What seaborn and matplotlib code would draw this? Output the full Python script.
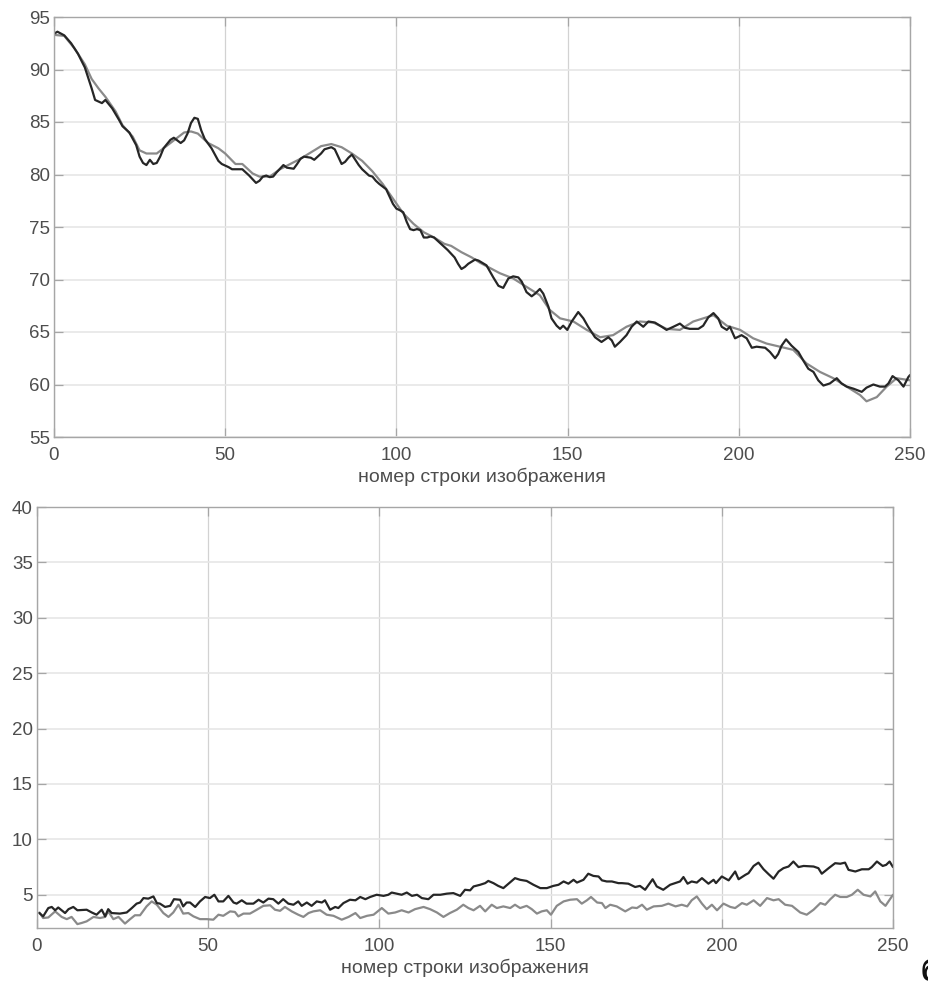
import matplotlib
matplotlib.use("Agg")
import matplotlib.pyplot as plt
import seaborn as sns
import numpy as np

# ---------------- data ----------------
# Top panel: black (measured) series
top_black_x = [0, 1, 3, 5, 7, 9, 11, 12, 14, 15, 17, 19, 20, 22, 24, 25, 26, 27, 28, 29, 30, 31, 32, 34,
               35, 36, 37, 38, 39, 40, 41, 42, 43, 44, 46, 48, 49, 51, 52, 55, 57, 59, 60, 61, 62, 63, 64,
               65, 67, 68, 70, 71, 72, 73, 75, 76, 77, 78, 79, 81, 82, 83, 84, 85, 86, 87, 88, 89, 90, 92,
               93, 94, 95, 97, 98, 99, 100, 101, 102, 103, 104, 105, 106, 107, 108, 109, 110, 111, 112, 113,
               114, 115, 117, 118, 119, 120, 121, 122, 123, 124,
               126.3, 128.3, 129.8, 131.2, 132.7, 134.1, 135.6, 136.6, 138.0, 139.5, 140.5, 141.9, 142.9,
               144.4, 145.3, 146.8, 147.8, 148.7, 149.9, 151.2, 153.1, 154.6, 156.0, 158.0, 159.9, 161.9,
               162.9, 163.8, 165.3, 167.2, 168.7, 170.2, 172.1, 173.6, 175.5, 177.5, 178.9, 180.9, 182.8,
               184.3, 185.7, 188.2, 189.6, 191.1, 192.6, 194.0, 195.0, 196.5, 197.4, 198.9, 200.8, 202.3,
               203.8, 205.2, 207.7, 209.1, 210.6, 211.5, 212.5, 213.8, 215.4, 217.4, 218.8, 220.3, 221.8,
               223.2, 224.7, 226.6, 228.6, 230.0, 231.5, 233.5, 235.9, 237.3, 239.3, 241.2, 242.7, 243.7,
               244.9, 246.6, 248.1, 249.5, 250]
top_black_y = [93.4, 93.6, 93.25, 92.5, 91.5, 90.2, 88.2, 87.1, 86.8, 87.1, 86.3, 85.2, 84.6, 84.0, 82.8,
               81.7, 81.1, 80.9, 81.4, 81.0, 81.1, 81.7, 82.5, 83.3, 83.5, 83.25, 83.0, 83.25, 83.9, 84.9,
               85.4, 85.3, 84.2, 83.4, 82.5, 81.3, 81.0, 80.7, 80.5, 80.5, 79.9, 79.2, 79.4, 79.8, 79.9,
               79.75, 79.8, 80.2, 80.9, 80.65, 80.55, 81.0, 81.5, 81.7, 81.6, 81.4, 81.7, 82.0, 82.4, 82.6,
               82.4, 81.7, 81.0, 81.2, 81.6, 81.9, 81.4, 80.9, 80.5, 79.9, 79.8, 79.4, 79.1, 78.6, 77.9,
               77.2, 76.75, 76.6, 76.4, 75.5, 74.8, 74.7, 74.8, 74.7, 74.0, 74.0, 74.1, 74.0, 73.7, 73.4,
               73.1, 72.8, 72.1, 71.5, 71.0, 71.2, 71.5, 71.7, 71.9, 71.8,
               71.35, 70.2, 69.4, 69.2, 70.1, 70.3, 70.2, 69.8, 68.8, 68.4, 68.65, 69.1, 68.65,
               67.4, 66.3, 65.6, 65.3, 65.6, 65.2, 66.0, 66.9, 66.3, 65.5, 64.5, 64.05, 64.5,
               64.2, 63.6, 64.05, 64.7, 65.5, 66.0, 65.5, 66.0, 65.9, 65.5, 65.2, 65.5, 65.8,
               65.4, 65.3, 65.3, 65.6, 66.4, 66.8, 66.3, 65.5, 65.2, 65.5, 64.4, 64.7, 64.4,
               63.5, 63.6, 63.5, 63.1, 62.5, 62.9, 63.7, 64.3, 63.7, 63.1, 62.3, 61.5, 61.2,
               60.4, 59.9, 60.1, 60.6, 60.1, 59.8, 59.6, 59.3, 59.7, 60.0, 59.8, 59.8, 60.1,
               60.8, 60.4, 59.8, 60.7, 60.9]

# Top panel: gray (model / smoothed) series
top_gray_x = [0, 3, 6, 9, 11, 13, 15, 18, 20, 23, 25, 27, 30, 32, 35, 38, 40, 42, 45, 48, 50, 53, 55, 58,
              60, 63, 66, 69, 72, 75, 78, 81, 84, 87, 90, 93, 96, 99, 102, 105, 108, 111, 114, 116, 119,
              122, 124.4, 130.2, 134.1, 138.0, 141.9, 144.8, 147.8, 151.7, 155.6, 159.5, 163.3, 167.2,
              171.1, 175.0, 178.9, 182.8, 186.7, 190.6, 192.6, 196.5, 200.4, 204.2, 208.1, 212.0, 215.9,
              219.8, 223.7, 227.6, 231.5, 235.4, 237.3, 240.3, 243.2, 246.1, 250]
top_gray_y = [93.3, 93.2, 92.0, 90.5, 89.1, 88.2, 87.4, 86.0, 84.7, 83.6, 82.3, 82.0, 82.0, 82.5, 83.25,
              84.0, 84.1, 83.9, 83.0, 82.5, 82.0, 81.0, 81.0, 80.1, 79.8, 79.8, 80.5, 81.0, 81.5, 82.1,
              82.7, 82.9, 82.6, 82.0, 81.3, 80.3, 79.1, 77.7, 76.3, 75.3, 74.5, 74.0, 73.4, 73.2, 72.6,
              72.1, 71.6, 70.6, 70.1, 69.3, 68.5, 67.1, 66.3, 66.0, 65.2, 64.5, 64.7, 65.5,
              66.0, 65.9, 65.3, 65.2, 66.0, 66.4, 66.6, 65.6, 65.2, 64.4, 63.9, 63.6, 63.3,
              62.0, 61.2, 60.6, 59.8, 59.0, 58.4, 58.8, 59.8, 60.6, 60.4]

# Bottom panel: black series
bot_black_x = [0.7, 1.8, 3.3, 4.3, 5.3, 6.2, 8.2, 9.2, 10.6, 11.8, 14.5, 16.0, 17.4, 18.9, 19.9, 20.8,
               21.8, 24.2, 26.2, 27.7, 29.1, 30.1, 31.1, 32.5, 34.0, 35.0, 35.9, 37.4, 38.9, 40.0, 41.8,
               42.7, 43.7, 44.7, 46.2, 47.6, 49.1, 50.5, 51.8, 53.0, 54.4, 55.9, 57.4, 58.3, 59.8, 61.2,
               63.2, 64.7, 66.1, 67.6, 69.0, 70.5, 71.9, 73.4, 74.9, 76.3, 77.3, 78.8, 80.2, 81.7, 83.2,
               84.1, 85.6, 87.1, 88.0, 89.5, 91.4, 93.0, 94.4, 95.9, 97.3, 99.2, 101.2, 102.6, 103.6,
               105.1, 106.5, 108.0, 109.5, 111.0, 112.4, 114.3, 115.8, 117.8, 119.7, 121.6, 123.6, 125.0,
               126.5, 127.5, 129.4, 130.9, 131.8, 133.3, 134.7, 136.2, 137.7, 139.6, 141.1, 143.0, 145.0,
               147.0, 148.9, 150.8, 152.3, 153.8, 155.2, 156.7, 157.7, 159.6, 161.0, 162.5, 164.0, 165.0,
               166.4, 167.9, 169.8, 170.8, 172.7, 174.7, 176.1, 177.6, 179.0, 179.8, 181.0, 182.9, 184.9,
               186.4, 187.8, 188.8, 190.0, 191.2, 192.7, 194.2, 196.1, 197.6, 198.3, 200.0, 202.0, 203.9,
               204.9, 206.9, 207.8, 209.3, 210.7, 212.2, 213.7, 215.1, 216.6, 218.0, 219.5, 220.9, 222.4,
               223.9, 226.8, 228.2, 229.2, 231.2, 233.1, 234.6, 236.0, 237.0, 239.0, 240.9, 242.9, 243.8,
               245.3, 247.0, 248.0, 249.0, 250]
bot_black_y = [3.35, 3.05, 3.8, 3.9, 3.6, 3.85, 3.35, 3.7, 3.9, 3.6, 3.65, 3.4, 3.2, 3.65, 3.05, 3.7,
               3.35, 3.3, 3.4, 3.8, 4.2, 4.3, 4.7, 4.65, 4.85, 4.25, 4.2, 3.9, 4.0, 4.6, 4.55,
               3.95, 4.3, 4.3, 3.9, 4.4, 4.8, 4.7, 5.0, 4.4, 4.4, 4.9, 4.3, 4.2, 4.5, 4.2,
               4.2, 4.55, 4.3, 4.65, 4.6, 4.2, 4.6, 4.2, 4.1, 4.4, 4.0, 4.3, 4.0, 4.4, 4.3,
               4.5, 3.65, 3.9, 3.8, 4.25, 4.55, 4.5, 4.8, 4.6, 4.8, 5.0, 4.9, 5.0, 5.2,
               5.1, 5.0, 5.2, 4.9, 5.0, 4.7, 4.6, 5.0, 5.0, 5.1, 5.15, 4.9, 5.45,
               5.4, 5.75, 5.9, 6.05, 6.25, 6.05, 5.8, 5.6, 6.0, 6.5, 6.35, 6.25, 5.9,
               5.6, 5.6, 5.8, 5.9, 6.2, 6.0, 6.35, 6.1, 6.35, 6.9, 6.7, 6.65, 6.3,
               6.2, 6.2, 6.05, 6.05, 6.0, 5.7, 5.8, 5.45, 6.05, 6.4, 5.75, 5.45, 5.9,
               6.05, 6.2, 6.6, 6.0, 6.2, 6.1, 6.5, 6.0, 6.35, 6.05, 6.65, 6.3, 7.1,
               6.4, 6.8, 6.95, 7.6, 7.9, 7.3, 6.85, 6.45, 7.1, 7.4, 7.55, 8.0, 7.5,
               7.6, 7.55, 7.4, 6.9, 7.4, 7.85, 7.8, 7.9, 7.25, 7.1, 7.3, 7.3, 7.5,
               8.0, 7.6, 7.7, 8.0, 7.5]

# Bottom panel: gray series
bot_gray_x = [0.7, 1.8, 3.3, 5.3, 7.2, 8.7, 10.1, 11.8, 13.0, 14.5, 16.5, 18.4, 19.9, 20.8, 22.3, 23.8,
              25.7, 27.2, 28.6, 30.1, 32.0, 33.5, 35.0, 36.9, 38.4, 39.8, 41.3, 42.7, 44.2, 45.7, 47.6,
              49.6, 51.5, 53.0, 54.4, 56.4, 57.8, 58.8, 60.3, 62.2, 64.2, 66.1, 68.1, 69.5, 71.0, 72.4,
              74.4, 76.3, 77.8, 79.3, 80.7, 82.7, 84.6, 86.6, 89.0, 91.0, 93.0, 94.4, 96.4, 98.3, 100.7,
              102.6, 104.6, 106.5, 108.5, 110.4, 112.9, 114.8, 116.8, 118.7, 120.6, 122.6, 124.5, 126.0,
              127.5, 129.4, 130.9, 132.8, 134.3, 136.2, 138.2, 139.6, 141.1, 143.0, 144.5, 146.0, 147.4,
              148.9, 150.1, 151.8, 153.8, 155.7, 157.7, 159.1, 160.6, 161.8, 163.6, 165.0, 166.0, 167.4,
              169.3, 171.8, 173.8, 175.2, 176.7, 178.1, 180.1, 182.5, 184.4, 186.5, 188.3, 189.9, 191.2,
              192.7, 194.2, 195.6, 197.1, 198.6, 200.5, 202.5, 203.9, 205.9, 207.3, 209.3, 211.2, 213.2,
              215.1, 216.6, 218.5, 220.5, 222.9, 224.8, 226.8, 228.8, 230.2, 231.7, 233.1, 234.6, 236.5,
              238.0, 239.7, 241.4, 243.4, 244.8, 246.3, 247.8, 250]
bot_gray_y = [3.4, 2.9, 2.95, 3.5, 3.0, 2.8, 3.0, 2.35, 2.45, 2.6, 3.0, 2.9, 3.0, 3.5, 2.8, 3.0,
              2.4, 2.8, 3.15, 3.15, 3.95, 4.4, 4.1, 3.35, 3.0, 3.4, 4.1, 3.3, 3.35, 3.05, 2.8,
              2.8, 2.75, 3.2, 3.1, 3.5, 3.45, 3.05, 3.3, 3.3, 3.65, 4.0, 4.05, 3.65, 3.55, 3.9,
              3.5, 3.2, 3.0, 3.35, 3.5, 3.6, 3.2, 3.1, 2.75, 3.0, 3.35, 2.9, 3.1, 3.2, 3.8,
              3.3, 3.4, 3.6, 3.4, 3.7, 3.9, 3.7, 3.4, 3.0, 3.35, 3.65, 4.1, 3.8,
              3.6, 4.0, 3.5, 4.1, 3.8, 3.95, 3.8, 4.1, 3.8, 4.0, 3.7, 3.3, 3.5,
              3.6, 3.2, 4.0, 4.4, 4.55, 4.6, 4.2, 4.5, 4.8, 4.3, 4.25, 3.8, 4.1,
              3.95, 3.5, 3.85, 3.8, 4.1, 3.65, 3.95, 4.0, 4.2, 3.95, 4.1, 3.95, 4.5,
              4.85, 4.2, 3.7, 4.1, 3.6, 4.2, 3.9, 3.8, 4.25, 4.1, 4.5, 4.0, 4.7,
              4.5, 4.6, 4.1, 4.0, 3.4, 3.2, 3.65, 4.25, 4.1, 4.6, 5.0, 4.8, 4.8,
              5.0, 5.45, 5.0, 4.85, 5.3, 4.4, 4.0, 5.0]

xlabel_text = "номер строки изображения"
top_yticks = [55, 60, 65, 70, 75, 80, 85, 90, 95]
bot_yticks = [5, 10, 15, 20, 25, 30, 35, 40]
xticks = [0, 50, 100, 150, 200, 250]

# ---------------- style ----------------
sns.set_theme(style="white")
plt.rcParams['font.family'] = ['Liberation Sans', 'DejaVu Sans']

W, H = 929, 985
fig = plt.figure(figsize=(W / 100, H / 100), dpi=100)

def px_axes(l, t, r, b):
    return fig.add_axes([l / W, 1 - b / H, (r - l) / W, (b - t) / H])

ax1 = px_axes(54, 17, 910, 437)
ax2 = px_axes(37, 507, 893, 928)

BLACK = "#262626"
GRAY = "#8a8a8a"
TXT = "#4d4d4d"

def style(ax, ylim, yticks):
    ax.set_xlim(0, 250)
    ax.set_ylim(*ylim)
    ax.set_xticks(xticks)
    ax.set_yticks(yticks)
    ax.xaxis.grid(True, color="#d2d2d2", lw=0.9)
    ax.yaxis.grid(True, color="#e6e6e6", lw=1.2)
    ax.set_axisbelow(True)
    for s in ax.spines.values():
        s.set_color("#a6a6a6")
        s.set_linewidth(1.0)
        s.set_visible(True)
    ax.tick_params(direction="in", length=6.5, width=0.9, color="#a6a6a6",
                   labelsize=13.5, labelcolor=TXT, top=True, right=True,
                   bottom=True, left=True)
    ax.tick_params(axis="x", pad=7)
    ax.tick_params(axis="y", pad=3)
    ax.set_xlabel(xlabel_text, fontsize=14, color=TXT, labelpad=3)
    ax.set_ylabel("")

sns.lineplot(x=top_gray_x, y=top_gray_y, ax=ax1, color=GRAY, lw=1.6,
             sort=False, estimator=None)
sns.lineplot(x=top_black_x, y=top_black_y, ax=ax1, color=BLACK, lw=1.6,
             sort=False, estimator=None)
style(ax1, (55, 95), top_yticks)

sns.lineplot(x=bot_gray_x, y=bot_gray_y, ax=ax2, color=GRAY, lw=1.6,
             sort=False, estimator=None)
sns.lineplot(x=bot_black_x, y=bot_black_y, ax=ax2, color=BLACK, lw=1.6,
             sort=False, estimator=None)
style(ax2, (2, 40), bot_yticks)

# partially visible panel letter at bottom-right edge (cut off in the reference too)
fig.text(921 / W, 1 - 958 / H, "б", fontsize=22, fontweight="bold",
         color="#111111", ha="left", va="top")

fig.savefig("out.png", dpi=100)
